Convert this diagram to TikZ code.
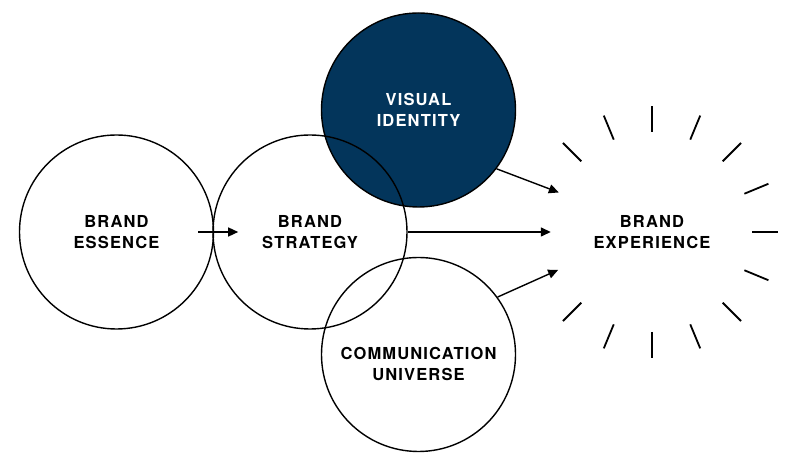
\documentclass[tikz,border=0pt]{standalone}
\usepackage{fontspec}
\setmainfont{TeX Gyre Heros}
\usepackage{tikz}
\usepackage{xcolor}
\usetikzlibrary{arrows.meta}

\definecolor{navy}{RGB}{3,53,91}
\newcommand\labelfont{\fontsize{16.5}{21}\selectfont\bfseries\addfontfeatures{LetterSpace=7}}

\begin{document}
\begin{tikzpicture}[x=1pt, y=1pt,
    bubble/.style={circle, draw, line width=1.4pt, minimum size=194pt, inner sep=0pt, align=center, font=\labelfont},
    flow/.style={-{Triangle[length=10pt,width=9pt]}, line width=1.4pt},
    ray/.style={line width=1.8pt}]
    \useasboundingbox (0,0) rectangle (800,465);

    % Circles
    \node[bubble, fill=navy, text=white] (vis) at (418.5,355) {VISUAL\\IDENTITY};
    \node[bubble] (ess) at (116.5,233) {BRAND\\ESSENCE};
    \node[bubble] (str) at (310,233) {BRAND\\STRATEGY};
    \node[bubble] (com) at (418.5,110.5) {};
    \node[align=center, font=\labelfont] (comlabel) at ([yshift=-9pt]com.center) {COMMUNICATION\\UNIVERSE};
    \node[circle, minimum size=202pt, inner sep=0pt, align=center, font=\labelfont] (exp) at (652,233) {BRAND\\EXPERIENCE};

    % Arrows
    \draw[flow] ([xshift=-16pt]ess.east) -- ([xshift=24pt]ess.east);
    \draw[flow] (str.east) -- (exp.180);
    \draw[flow] (vis.-37) -- (exp.157.5);
    \draw[flow] (com.36) -- (exp.202.5);

    % Rays
    \foreach \a in {0,22.5,...,135,225,247.5,...,337.5}
        \draw[ray] (exp.center) ++(\a:100) -- ++(\a:26);
\end{tikzpicture}
\end{document}
